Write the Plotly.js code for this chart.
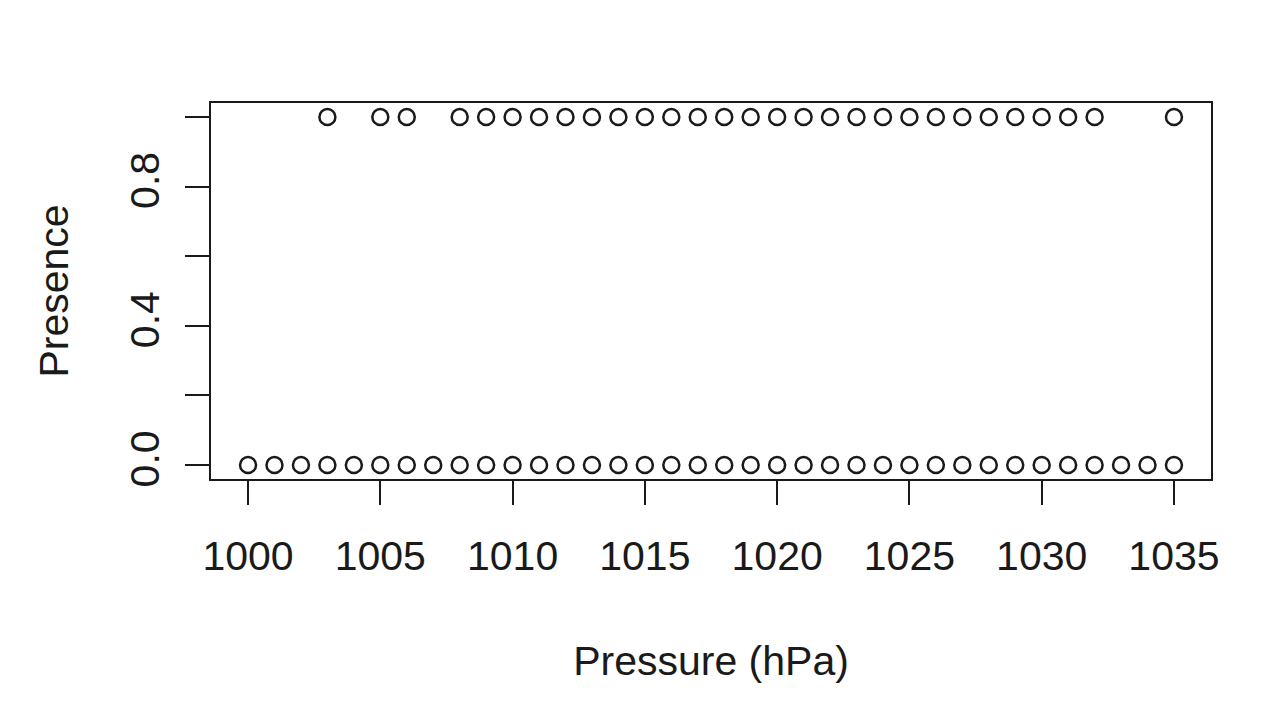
<!DOCTYPE html>
<html>
<head>
<meta charset="utf-8">
<script src="https://cdn.plot.ly/plotly-3.0.1.min.js"></script>
<style>html,body{margin:0;padding:0;background:#fff;}#chart{width:1280px;height:720px;}</style>
</head>
<body>
<div id="chart"></div>
<script>
// Observations: pressure (hPa) and presence (0/1)
const pressure = [
  1000,1001,1002,1003,1004,1005,1006,1007,1008,1009,1010,1011,1012,1013,1014,1015,1016,1017,
  1018,1019,1020,1021,1022,1023,1024,1025,1026,1027,1028,1029,1030,1031,1032,1033,1034,1035,
  1003,1005,1006,1008,1009,1010,1011,1012,1013,1014,1015,1016,1017,1018,1019,1020,1021,1022,
  1023,1024,1025,1026,1027,1028,1029,1030,1031,1032,1035
];
const presence = [
  0,0,0,0,0,0,0,0,0,0,0,0,0,0,0,0,0,0,
  0,0,0,0,0,0,0,0,0,0,0,0,0,0,0,0,0,0,
  1,1,1,1,1,1,1,1,1,1,1,1,1,1,1,1,1,1,
  1,1,1,1,1,1,1,1,1,1,1
];
const xTickVals = [1000,1005,1010,1015,1020,1025,1030,1035];
const xTickText = ['1000','1005','1010','1015','1020','1025','1030','1035'];
const yTickVals = [0,0.2,0.4,0.6,0.8,1.0];
const yTickText = ['0.0','','0.4','','0.8',''];

const FONT = '"Liberation Sans Narrow", "Arial Narrow", "Liberation Sans", Arial, sans-serif';
const INK = '#1a1a1a';
const FS = 41;

const trace = {
  x: pressure, y: presence, type: 'scatter', mode: 'markers',
  marker: {symbol: 'circle-open', size: 16, color: INK, line: {width: 2.5, color: INK}},
  hoverinfo: 'x+y'
};

const layout = {
  width: 1280, height: 720,
  margin: {l: 211, r: 69, t: 103, b: 241},
  paper_bgcolor: '#fff', plot_bgcolor: '#fff',
  showlegend: false,
  font: {family: FONT, size: FS, color: INK},
  xaxis: {
    range: [998.6, 1036.4], zeroline: false, showgrid: false,
    showline: true, mirror: true, linecolor: INK, linewidth: 2,
    ticks: 'outside', ticklen: 24, tickwidth: 2, tickcolor: INK,
    tickmode: 'array', tickvals: xTickVals, ticktext: xTickText,
    tickfont: {family: FONT, size: FS, color: INK},
    ticklabelstandoff: 16,
    title: {text: 'Pressure (hPa)', font: {family: FONT, size: FS, color: INK}, standoff: 68}
  },
  yaxis: {
    range: [-0.04, 1.04], zeroline: false, showgrid: false,
    showline: true, mirror: true, linecolor: INK, linewidth: 2,
    ticks: 'outside', ticklen: 24, tickwidth: 2, tickcolor: INK,
    tickmode: 'array', tickvals: yTickVals, ticktext: yTickText,
    tickangle: -90,
    tickfont: {family: FONT, size: FS, color: INK},
    ticklabelstandoff: 10,
    title: {text: 'Presence', font: {family: FONT, size: FS, color: INK}, standoff: 40}
  }
};

Plotly.newPlot('chart', [trace], layout, {displayModeBar: false, staticPlot: true});
</script>
</body>
</html>
